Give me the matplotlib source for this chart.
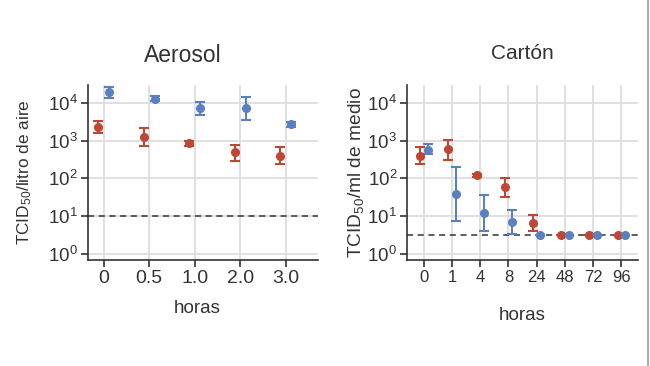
import numpy as np
import matplotlib
matplotlib.use("Agg")
import matplotlib.pyplot as plt
from matplotlib.lines import Line2D

plt.rcParams['font.family'] = ['Liberation Sans', 'DejaVu Sans']
plt.rcParams['mathtext.fontset'] = 'custom'
plt.rcParams['mathtext.rm'] = 'Liberation Sans'
plt.rcParams['mathtext.it'] = 'Liberation Sans:italic'
plt.rcParams['mathtext.bf'] = 'Liberation Sans:bold'

# Aerosol
aer_ticks = ['0', '0.5', '1.0', '2.0', '3.0']
aer_red = [2300, 1260, 850, 490, 400]
aer_red_lo = [1550, 740, 720, 295, 235]
aer_red_hi = [3300, 2100, 1000, 780, 660]
aer_blue = [18700, 12700, 7400, 7400, 2750]
aer_blue_lo = [13500, 10800, 4800, 3500, 2300]
aer_blue_hi = [26500, 15000, 10500, 14400, 3150]
aer_limit = 10

# Carton
car_ticks = ['0', '1', '4', '8', '24', '48', '72', '96']
car_red = [400, 590, 120, 59, 6.7, 3.16, 3.16, 3.16]
car_red_lo = [240, 315, 107, 32, 4.1, 3.16, 3.16, 3.16]
car_red_hi = [660, 1020, 134, 100, 11, 3.16, 3.16, 3.16]
car_blue = [580, 40, 12.3, 7, 3.16, 3.16, 3.16, 3.16]
car_blue_lo = [430, 7.5, 4.1, 3.5, 3.16, 3.16, 3.16, 3.16]
car_blue_hi = [800, 200, 36, 15, 3.16, 3.16, 3.16, 3.16]
car_limit = 3.16

RED = '#bf4634'
BLUE = '#5b80c0'
SPINE = '#333333'
TXT = '#333333'


def panel(ax, ticks, red, rlo, rhi, blue, blo, bhi, limit, xlim, off, xsize):
    x = np.arange(len(ticks))
    red = np.array(red); blue = np.array(blue)
    ax.errorbar(x - off, red, yerr=[red - np.array(rlo), np.array(rhi) - red],
                fmt='o', color=RED, ms=5.5, capsize=3.6, elinewidth=1.5, capthick=1.5, zorder=3)
    ax.errorbar(x + off, blue, yerr=[blue - np.array(blo), np.array(bhi) - blue],
                fmt='o', color=BLUE, ms=5.5, capsize=3.6, elinewidth=1.5, capthick=1.5, zorder=3)
    ax.axhline(limit, color='#333333', ls=(0, (4, 3)), lw=1.1, zorder=2)
    ax.set_yscale('log')
    ax.set_ylim(10 ** -0.15, 10 ** 4.47)
    ax.set_xlim(*xlim)
    ax.set_yticks([1, 10, 100, 1000, 10000])
    ax.set_yticklabels([r'$\mathregular{10^{%d}}$' % i for i in range(5)])
    ax.minorticks_off()
    ax.set_xticks(x)
    ax.set_xticklabels(ticks)
    ax.grid(True, color='#dddddd', lw=1.3)
    ax.set_axisbelow(True)
    for s in ['top', 'right']:
        ax.spines[s].set_visible(False)
    for s in ['left', 'bottom']:
        ax.spines[s].set_color(SPINE)
        ax.spines[s].set_linewidth(1.2)
    ax.tick_params(colors=SPINE, labelcolor=TXT, length=5, width=1.2, pad=2)
    ax.tick_params(axis='y', labelsize=13.5)
    ax.tick_params(axis='x', labelsize=xsize)


fig = plt.figure(figsize=(6.5, 3.66), dpi=100)
ax1 = fig.add_axes([0.135, 0.290, 0.354, 0.478])
ax2 = fig.add_axes([0.626, 0.290, 0.356, 0.478])

panel(ax1, aer_ticks, aer_red, aer_red_lo, aer_red_hi, aer_blue, aer_blue_lo, aer_blue_hi,
      aer_limit, (-0.35, 4.7), 0.12, 14)
panel(ax2, car_ticks, car_red, car_red_lo, car_red_hi, car_blue, car_blue_lo, car_blue_hi,
      car_limit, (-0.6, 7.6), 0.13, 12)

ax1.set_title('Aerosol', fontsize=16.5, color=TXT, pad=16.5, x=0.413)
ax2.set_title('Cartón', fontsize=15, color=TXT, pad=19)

ax1.set_ylabel(r'TCID$_{50}$/litro de aire', fontsize=12.4, color=TXT)
ax2.set_ylabel(r'TCID$_{50}$/ml de medio', fontsize=13.8, color=TXT)
ax1.yaxis.set_label_coords(-0.235, 0.5)
ax2.yaxis.set_label_coords(-0.177, 0.5)

ax1.set_xlabel('horas', fontsize=13.5, color=TXT)
ax2.set_xlabel('horas', fontsize=13.5, color=TXT)
for ax, xc, yb in [(ax1, 0.474, -0.303), (ax2, 0.5, -0.343)]:
    ax.xaxis.label.set_va('baseline')
    ax.xaxis.set_label_coords(xc, yb)

fig.add_artist(Line2D([0.997, 0.997], [0, 1], color='#aaaaaa', lw=1.5))

fig.savefig('out.png', dpi=100)
